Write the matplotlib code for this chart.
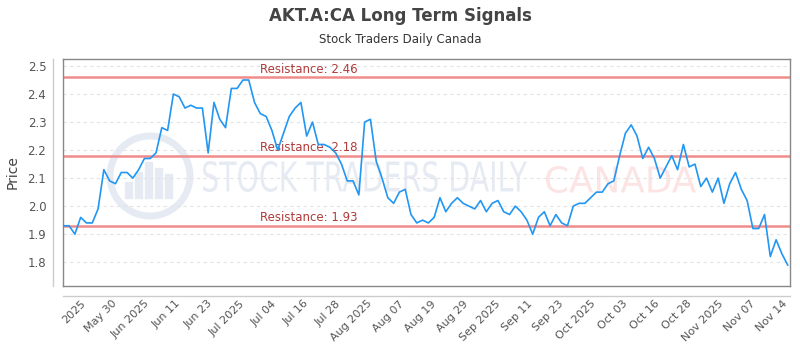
import numpy as np
import matplotlib
matplotlib.use("Agg")
import matplotlib.pyplot as plt
from matplotlib.lines import Line2D
from matplotlib.patches import Ellipse, Rectangle, PathPatch
from matplotlib.textpath import TextPath
from matplotlib.font_manager import FontProperties
from matplotlib.transforms import Affine2D

prices = [1.93, 1.93, 1.90, 1.96, 1.94, 1.94, 1.99, 2.13, 2.09, 2.08,
          2.12, 2.12, 2.10, 2.13, 2.17, 2.17, 2.19, 2.28, 2.27, 2.40,
          2.39, 2.35, 2.36, 2.35, 2.35, 2.19, 2.37, 2.31, 2.28, 2.42,
          2.42, 2.45, 2.45, 2.37, 2.33, 2.32, 2.27, 2.20, 2.26, 2.32,
          2.35, 2.37, 2.25, 2.30, 2.22, 2.22, 2.21, 2.19, 2.15, 2.09,
          2.09, 2.04, 2.30, 2.31, 2.16, 2.10, 2.03, 2.01, 2.05, 2.06,
          1.97, 1.94, 1.95, 1.94, 1.96, 2.03, 1.98, 2.01, 2.03, 2.01,
          2.00, 1.99, 2.02, 1.98, 2.01, 2.02, 1.98, 1.97, 2.00, 1.98,
          1.95, 1.90, 1.96, 1.98, 1.93, 1.97, 1.94, 1.93, 2.00, 2.01,
          2.01, 2.03, 2.05, 2.05, 2.08, 2.09, 2.18, 2.26, 2.29, 2.25,
          2.17, 2.21, 2.17, 2.10, 2.14, 2.18, 2.13, 2.22, 2.14, 2.15,
          2.07, 2.10, 2.05, 2.10, 2.01, 2.08, 2.12, 2.06, 2.02, 1.92,
          1.92, 1.97, 1.82, 1.88, 1.83, 1.79]

resistance_levels = [2.46, 2.18, 1.93]

x_tick_labels = ["2025", "May 30", "Jun 2025", "Jun 11", "Jun 23", "Jul 2025",
                 "Jul 04", "Jul 16", "Jul 28", "Aug 2025", "Aug 07", "Aug 19",
                 "Aug 29", "Sep 2025", "Sep 11", "Sep 23", "Oct 2025", "Oct 03",
                 "Oct 16", "Oct 28", "Nov 2025", "Nov 07", "Nov 14"]

y_ticks = [1.8, 1.9, 2.0, 2.1, 2.2, 2.3, 2.4, 2.5]

W, H = 800, 350
fig = plt.figure(figsize=(8, 3.5), dpi=100)
L, R, T, B = 63, 790, 59, 286
ax = fig.add_axes([L / W, 1 - B / H, (R - L) / W, (B - T) / H])
ax.patch.set_alpha(0)

n = len(prices)
x = np.arange(n)
ax.set_xlim(-0.05, n - 1 + 0.4)
ax.set_ylim(1.715, 2.525)

# grid
for yv in y_ticks:
    ax.axhline(yv, color="#e3e3e3", lw=0.8, ls=(0, (3, 3)), zorder=0)


# watermark (drawn as stretched text paths in pixel coordinates)
def wm_text(s, x0, x1, ytop, ybot, color):
    tp = TextPath((0, 0), s, size=1, prop=FontProperties(family="DejaVu Sans"))
    ext = tp.get_extents()
    sx = (x1 - x0) / ext.width
    sy = (ybot - ytop) / ext.height
    tr = (Affine2D().translate(-ext.x0, -ext.y0).scale(sx / W, sy / H)
          .translate(x0 / W, 1 - ybot / H) + fig.transFigure)
    fig.add_artist(PathPatch(tp, transform=tr, fc=color, ec="none", zorder=-1))


wm_text("STOCK TRADERS DAILY", 203, 527, 161, 192, "#e6ebf3")
wm_text("CANADA", 546, 696, 166, 193, "#fde4e4")
logo_x, logo_y = 150, 176
fig.add_artist(Ellipse((logo_x / W, 1 - logo_y / H), 80 / W, 80 / H,
                       transform=fig.transFigure, fill=False, ec="#e6ebf3",
                       lw=5, zorder=-1))
for i, h in enumerate([16, 26, 36, 30, 24]):
    bx = (logo_x - 25 + i * 10) / W
    fig.add_artist(Rectangle((bx, 1 - (logo_y + 22) / H), 7 / W, h / H,
                             transform=fig.transFigure, color="#e6ebf3",
                             zorder=-1))

# resistance lines
for lv in resistance_levels:
    ax.axhline(lv, color="#f08c8c", lw=1.8, zorder=2)
    ax.text(33.9, lv + 0.006, f"Resistance: {lv:.2f}", color="#b03a3a",
            fontsize=8.5, ha="left", va="bottom", zorder=3)

ax.plot(x, prices, color="#2196f3", lw=1.2, zorder=4)

# ticks
tick_px = np.linspace(80, 782, len(x_tick_labels))
tick_pos = (tick_px - 63.3) / 5.795
ax.set_xticks(tick_pos)
ax.set_xticklabels(x_tick_labels, rotation=45, ha="right",
                   rotation_mode="anchor", fontsize=8, color="#555555")
ax.set_yticks(y_ticks)
ax.set_yticklabels([f"{v:.1f}" for v in y_ticks], fontsize=8.5, color="#555555")
ax.tick_params(axis="both", length=0)
ax.tick_params(axis="y", pad=12)
ax.tick_params(axis="x", pad=9)
ax.set_ylabel("Price", fontsize=10, color="#444444", labelpad=6)

for s in ax.spines.values():
    s.set_color("#888888")
    s.set_linewidth(1)

# detached axis lines
fig.add_artist(Line2D([53 / W, 53 / W], [1 - 59 / H, 1 - 286 / H],
                      transform=fig.transFigure, color="#cccccc", lw=1))
fig.add_artist(Line2D([63 / W, 790 / W], [1 - 296 / H, 1 - 296 / H],
                      transform=fig.transFigure, color="#cccccc", lw=1))

fig.text(0.5, 1 - 16 / H, "AKT.A:CA Long Term Signals", ha="center",
         va="center", fontsize=12, fontweight="bold", color="#444444")
fig.text(0.5, 1 - 40 / H, "Stock Traders Daily Canada", ha="center",
         va="center", fontsize=8.5, color="#333333")

fig.savefig("out.png", dpi=100)
